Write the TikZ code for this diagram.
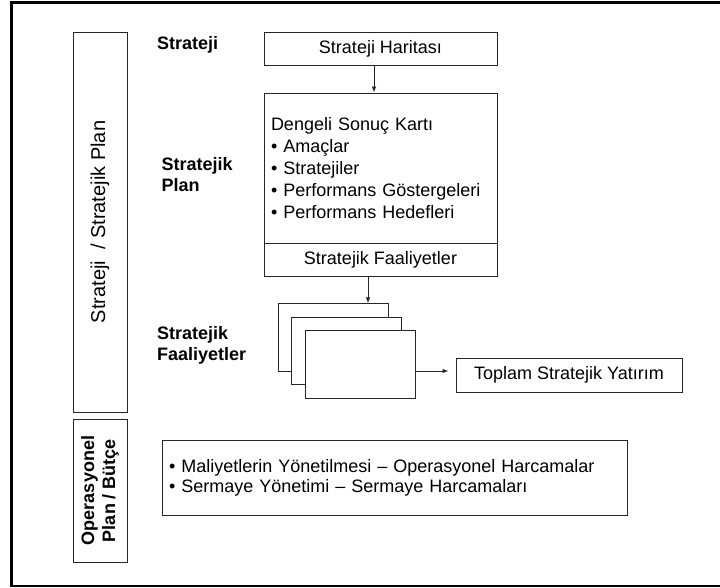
\documentclass[tikz,border=0pt]{standalone}
\usepackage{fontspec}
\setmainfont{Liberation Sans}
\usetikzlibrary{arrows.meta}
\begin{document}
\begin{tikzpicture}[x=1pt,y=-1pt,
  txt/.style={font=\fontsize{18}{21}\selectfont},
  lbl/.style={txt,font=\fontsize{18}{21}\selectfont\bfseries,inner sep=0pt,align=left},
  box/.style={draw=black!85,line width=0.9pt,fill=white,rectangle,inner sep=0pt,txt},
  arr/.style={draw=black!85,line width=0.9pt,-{Latex[length=6pt,width=4.5pt]}},
  frame/.style={draw=black,line width=2.8pt}
]
\useasboundingbox (0,0) rectangle (720,588);
% outer frame (open on the right)
\draw[frame] (722,2.5) -- (11.5,2.5) -- (11.5,586) -- (722,586);

% left columns
\node[box,rotate=90,minimum width=380pt,minimum height=54pt,
  font=\fontsize{20}{24}\selectfont] (colA) at (100,222)
  {Strateji\ \ / Stratejik Plan};
\node[box,rotate=90,minimum width=143pt,minimum height=54pt,align=center,
  font=\fontsize{18}{21}\selectfont\bfseries] (colB) at (100,490.5)
  {Operasyonel\\Plan / Bütçe};

% row labels
\node[lbl,anchor=base west] (lS) at (157,50) {Strateji};
\node[lbl,anchor=north west] (lSP) at (161.5,157) {Stratejik\\Plan};
\node[lbl,anchor=north west] (lSF) at (157,326) {Stratejik\\Faaliyetler};

% strategy map and balanced scorecard
\node[box,minimum width=233pt,minimum height=33pt] (map) at (380.5,48.5) {Strateji Haritası};
\node[box,minimum width=233pt,minimum height=150pt,text width=219pt,align=left,
  font=\fontsize{18}{22}\selectfont] (bsc) at (380.5,168)
  {Dengeli Sonuç Kartı\\• Amaçlar\\• Stratejiler\\• Performans Göstergeleri\\• Performans Hedefleri};
\node[box,minimum width=233pt,minimum height=33pt] (sfa) at (380.5,259.5) {Stratejik Faaliyetler};

% stacked activity sheets
\node[box,minimum width=110pt,minimum height=67.5pt] (s1) at (333,337.5) {};
\node[box,minimum width=110pt,minimum height=67.5pt] (s2) at (346.5,351) {};
\node[box,minimum width=110pt,minimum height=67.5pt] (s3) at (360,364.5) {};

\node[box,minimum width=226pt,minimum height=34pt] (tot) at (569,375) {Toplam Stratejik Yatırım};

% operational budget
\node[box,minimum width=465pt,minimum height=75pt,text width=451pt,align=left,
  font=\fontsize{18}{20}\selectfont] (ops) at (394.5,477.5)
  {• Maliyetlerin Yönetilmesi – Operasyonel Harcamalar\\• Sermaye Yönetimi – Sermaye Harcamaları};

% connectors
\coordinate (mapOut) at ([xshift=-6.5pt]map.south);
\draw[arr] (mapOut) -- (mapOut |- bsc.north);
\coordinate (sfaOut) at ([xshift=-12.5pt]sfa.south);
\draw[arr] (sfaOut) -- (sfaOut |- s1.north);
\coordinate (sOut) at ([yshift=-6.5pt]s3.east);
\coordinate (tIn) at ([xshift=-7pt]tot.west);
\draw[arr] (sOut) -- (sOut -| tIn);
\end{tikzpicture}
\end{document}
